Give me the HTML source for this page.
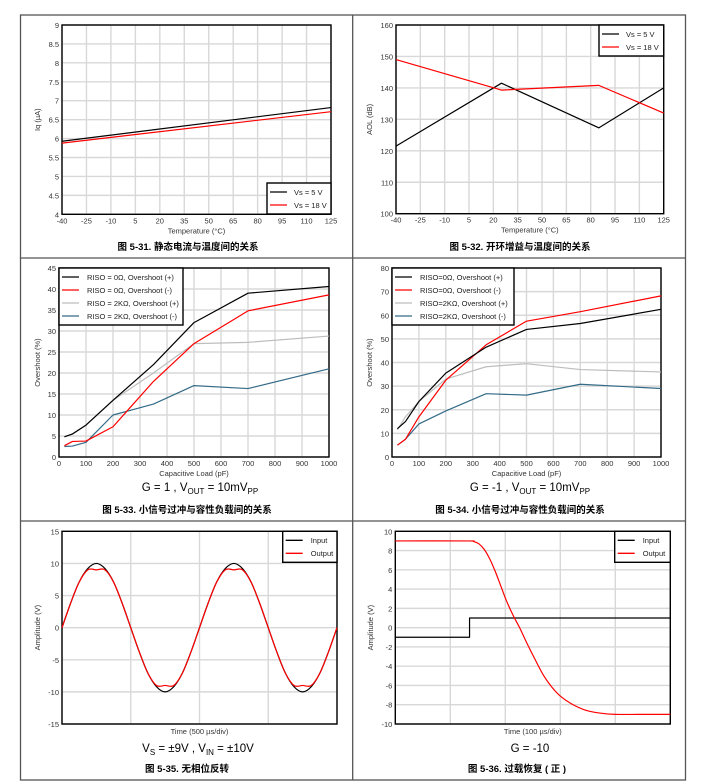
<!DOCTYPE html>
<html><head><meta charset="utf-8"><style>
html,body{margin:0;padding:0;background:#fff;}
svg{display:block;font-family:"Liberation Sans","Noto Sans CJK SC",sans-serif;}
</style></head><body>
<svg id="fig" width="714" height="784" viewBox="0 0 714 784" xmlns="http://www.w3.org/2000/svg">
<rect x="20.5" y="15" width="665" height="765" fill="none" stroke="#555" stroke-width="1.3"/>
<line x1="352.7" y1="15" x2="352.7" y2="780" stroke="#555" stroke-width="1.3"/>
<line x1="20.5" y1="258" x2="685.5" y2="258" stroke="#555" stroke-width="1.3"/>
<line x1="20.5" y1="521" x2="685.5" y2="521" stroke="#555" stroke-width="1.3"/>
<g font-weight="bold" font-size="9.5" text-anchor="middle" fill="#000">
<text x="188" y="250">图 5-31. 静态电流与温度间的关系</text>
<text x="520" y="250">图 5-32. 开环增益与温度间的关系</text>
<text x="187" y="513">图 5-33. 小信号过冲与容性负载间的关系</text>
<text x="520" y="513">图 5-34. 小信号过冲与容性负载间的关系</text>
<text x="187" y="772">图 5-35. 无相位反转</text>
<text x="517" y="772">图 5-36. 过载恢复 ( 正 )</text>
</g>
<g font-size="11.5" text-anchor="middle" fill="#000">
<text x="200" y="491">G = 1 , V<tspan font-size="8" dy="3">OUT</tspan><tspan dy="-3"> = 10mV</tspan><tspan font-size="8" dy="3">PP</tspan></text>
<text x="530" y="491">G = -1 , V<tspan font-size="8" dy="3">OUT</tspan><tspan dy="-3"> = 10mV</tspan><tspan font-size="8" dy="3">PP</tspan></text>
<text x="198" y="752">V<tspan font-size="8" dy="3">S</tspan><tspan dy="-3"> = ±9V , V</tspan><tspan font-size="8" dy="3">IN</tspan><tspan dy="-3"> = ±10V</tspan></text>
<text x="530" y="752">G = -10</text>
</g>
</svg>
<script>
// ---- Chart 1: Iq vs temperature
const c1Temps = [-40, 125];
const c1Vs5 = [5.93, 6.82];
const c1Vs18 = [5.88, 6.71];
const c1XTicks = [-40,-25,-10,5,20,35,50,65,80,95,110,125];
const c1YTicks = [4,4.5,5,5.5,6,6.5,7,7.5,8,8.5,9];
// ---- Chart 2: AOL vs temperature
const c2Temps = [-40, 25, 85, 125];
const c2Vs5 = [121.5, 141.5, 127.3, 140];
const c2Vs18 = [149, 139.3, 140.8, 132];
const c2XTicks = [-40,-25,-10,5,20,35,50,65,80,95,110,125];
const c2YTicks = [100,110,120,130,140,150,160];
// ---- Chart 3: overshoot G=1
const c3Loads = [20, 50, 100, 200, 350, 500, 700, 1000];
const c3R0Pos = [4.8, 5.5, 7.6, 13.5, 22, 32, 39, 40.6];
const c3R0Neg = [2.7, 3.7, 3.8, 7.2, 18, 27, 34.8, 38.6];
const c3R2kPos = [4.8, 5.4, 7.6, 13.5, 20, 27, 27.3, 28.8];
const c3R2kNeg = [2.5, 2.6, 3.5, 10, 12.6, 17, 16.3, 21];
const c3XTicks = [0,100,200,300,400,500,600,700,800,900,1000];
const c3YTicks = [0,5,10,15,20,25,30,35,40,45];
// ---- Chart 4: overshoot G=-1
const c4Loads = [20, 50, 100, 200, 350, 500, 700, 1000];
const c4R0Pos = [12, 15, 23.5, 35.5, 46.5, 54, 56.5, 62.5];
const c4R0Neg = [5, 7.5, 17, 32.5, 47.5, 57.5, 61.5, 68.2];
const c4R2kPos = [11.5, 17, 23.5, 33, 38.2, 39.5, 37, 36];
const c4R2kNeg = [5, 7.5, 14, 19.5, 26.8, 26.2, 30.8, 29];
const c4XTicks = [0,100,200,300,400,500,600,700,800,900,1000];
const c4YTicks = [0,10,20,30,40,50,60,70,80];
// ---- Chart 5: no phase reversal (time in divisions)
const c5Time = [0,0.125,0.25,0.375,0.5,0.625,0.75,0.875,1,1.125,1.25,1.375,1.5,1.625,1.75,1.875,2,2.125,2.25,2.375,2.5,2.625,2.75,2.875,3,3.125,3.25,3.375,3.5,3.625,3.75,3.875,4];
const c5Input = [0,3.8,7.1,9.2,10,9.2,7.1,3.8,0,-3.8,-7.1,-9.2,-10,-9.2,-7.1,-3.8,0,3.8,7.1,9.2,10,9.2,7.1,3.8,0,-3.8,-7.1,-9.2,-10,-9.2,-7.1,-3.8,0];
const c5Output = [0,3.8,7.1,9,9,9,7.1,3.8,0,-3.8,-7.1,-9,-9,-9,-7.1,-3.8,0,3.8,7.1,9,9,9,7.1,3.8,0,-3.8,-7.1,-9,-9,-9,-7.1,-3.8,0];
const c5YTicks = [-15,-10,-5,0,5,10,15];
const c5XDivs = [0,1,2,3,4];
// ---- Chart 6: overload recovery (time in divisions)
const c6InTime = [0, 1.35, 1.35, 5];
const c6Input = [-1, -1, 1, 1];
const c6OutTime = [0,1.3,1.42,1.52,1.62,1.72,1.82,1.92,2.02,2.14,2.26,2.4,2.55,2.7,2.85,3.0,3.2,3.45,3.7,4.0,4.5,5];
const c6Output = [9,9,8.95,8.7,8.1,7.1,5.8,4.3,2.8,1.3,0,-1.7,-3.4,-5,-6.2,-7.1,-7.9,-8.55,-8.85,-9,-9,-9];
const c6YTicks = [-10,-8,-6,-4,-2,0,2,4,6,8,10];
const c6XDivs = [0,1,2,3,4,5];

const NS = "http://www.w3.org/2000/svg";
const svg = document.getElementById('fig');
function mk(tag, attrs, parent){
  const e = document.createElementNS(NS, tag);
  for (const k in attrs) e.setAttribute(k, attrs[k]);
  (parent||svg).appendChild(e);
  return e;
}
function linScale(d0,d1,r0,r1){ return v => r0 + (v-d0)/(d1-d0)*(r1-r0); }

function frame(box, name, xTicks, yTicks, xs, ys, xLabel, yLabel, showXTickLabels, yLabelX){
  const g = mk('g', {});
  
  
  yTicks.forEach(t => {
    const l = mk('line', {x1:box.l, x2:box.r, y1:ys(t), y2:ys(t), stroke:'#d8d8d8', 'stroke-width':1.4}, g);
    
    
    const tx = mk('text', {x:box.l-3, y:ys(t)+3, 'font-size':7.5, 'text-anchor':'end', fill:'#333'}, g);
    
    
    tx.textContent = t;
  });
  xTicks.forEach(t => {
    const l = mk('line', {x1:xs(t), x2:xs(t), y1:box.t, y2:box.b, stroke:'#d8d8d8', 'stroke-width':1.4}, g);
    
    
    if (showXTickLabels){
      const tx = mk('text', {x:xs(t), y:box.b+9, 'font-size':7.5, 'text-anchor':'middle', fill:'#333'}, g);
      
      
      tx.textContent = t;
    }
  });
  const bd = mk('rect', {x:box.l, y:box.t, width:box.r-box.l, height:box.b-box.t, fill:'none', stroke:'#000', 'stroke-width':1.4}, g);
  
  
  const xl = mk('text', {x:(box.l+box.r)/2, y:box.b+(showXTickLabels?19:10), 'font-size':7.5, 'text-anchor':'middle', fill:'#333'}, g);
  
  
  xl.textContent = xLabel;
  const yc = (box.t+box.b)/2;
  const yl = mk('text', {x:yLabelX, y:yc, 'font-size':7.5, 'text-anchor':'middle', fill:'#333', transform:'rotate(-90 '+yLabelX+' '+yc+')'}, g);
  
  
  yl.textContent = yLabel;
}
function series(xsArr, ysArr, xs, ys, color, name, smooth, w){
  const pts = xsArr.map((x,i)=>[xs(x), ys(ysArr[i])]);
  let d = 'M'+pts[0][0]+','+pts[0][1];
  if (smooth){
    for (let i=0;i<pts.length-1;i++){
      const p0=pts[Math.max(0,i-1)], p1=pts[i], p2=pts[i+1], p3=pts[Math.min(pts.length-1,i+2)];
      d += ' C'+(p1[0]+(p2[0]-p0[0])/6)+','+(p1[1]+(p2[1]-p0[1])/6)+' '+(p2[0]-(p3[0]-p1[0])/6)+','+(p2[1]-(p3[1]-p1[1])/6)+' '+p2[0]+','+p2[1];
    }
  } else {
    for (let i=1;i<pts.length;i++) d += ' L'+pts[i][0]+','+pts[i][1];
  }
  const p = mk('path', {d:d, fill:'none', stroke:color, 'stroke-width':w||1.2, 'stroke-linejoin':'round'});
  
  
}
function legend(x, y, w, entries, name, lineX0, lineX1, textX){
  const g = mk('g', {});
  
  
  const h = entries.length*13+5;
  const r = mk('rect', {x:x, y:y, width:w, height:h, fill:'#fff', stroke:'#000', 'stroke-width':1.4}, g);
  
  
  entries.forEach((e,i)=>{
    const yy = y+9+i*13;
    const l = mk('line', {x1:x+lineX0, x2:x+lineX1, y1:yy, y2:yy, stroke:e[1], 'stroke-width':1.3}, g);
    
    
    const t = mk('text', {x:x+textX, y:yy+2.8, 'font-size':7.5, fill:'#222'}, g);
    
    
    t.textContent = e[0];
  });
}
const BLUE = '#346b88', GRAY = '#bdbdbd';

// Chart 1
{ const b={l:62,r:331,t:25,b:214.3};
  const xs=linScale(-40,125,b.l,b.r), ys=linScale(4,9,b.b,b.t);
  frame(b,'chart-iq-vs-temp',c1XTicks,c1YTicks,xs,ys,'Temperature (°C)','Iq (µA)',true,40);
  series(c1Temps,c1Vs5,xs,ys,'#000','series-vs5');
  series(c1Temps,c1Vs18,xs,ys,'#f00','series-vs18');
  legend(267,183,64,[['Vs = 5 V','#000'],['Vs = 18 V','#f00']],'legend-chart1',3,20,27);
}
// Chart 2
{ const b={l:396,r:663.7,t:25,b:213.7};
  const xs=linScale(-40,125,b.l,b.r), ys=linScale(100,160,b.b,b.t);
  frame(b,'chart-aol-vs-temp',c2XTicks,c2YTicks,xs,ys,'Temperature (°C)','AOL (dB)',true,372);
  series(c2Temps,c2Vs5,xs,ys,'#000','series-vs5');
  series(c2Temps,c2Vs18,xs,ys,'#f00','series-vs18');
  legend(599,25,64.7,[['Vs = 5 V','#000'],['Vs = 18 V','#f00']],'legend-chart2',3,20,27);
}
// Chart 3
{ const b={l:59,r:329,t:268,b:457};
  const xs=linScale(0,1000,b.l,b.r), ys=linScale(0,45,b.b,b.t);
  frame(b,'chart-overshoot-g1',c3XTicks,c3YTicks,xs,ys,'Capacitive Load (pF)','Overshoot (%)',true,40);
  series(c3Loads,c3R2kPos,xs,ys,GRAY,'series-2k-pos');
  series(c3Loads,c3R2kNeg,xs,ys,BLUE,'series-2k-neg');
  series(c3Loads,c3R0Neg,xs,ys,'#f00','series-0-neg');
  series(c3Loads,c3R0Pos,xs,ys,'#000','series-0-pos');
  legend(59,268,124,[['RISO = 0Ω, Overshoot (+)','#000'],['RISO = 0Ω, Overshoot (-)','#f00'],['RISO = 2KΩ, Overshoot (+)',GRAY],['RISO = 2KΩ, Overshoot (-)',BLUE]],'legend-chart3',3,20,28);
}
// Chart 4
{ const b={l:392,r:661,t:268,b:457};
  const xs=linScale(0,1000,b.l,b.r), ys=linScale(0,80,b.b,b.t);
  frame(b,'chart-overshoot-g-1',c4XTicks,c4YTicks,xs,ys,'Capacitive Load (pF)','Overshoot (%)',true,372);
  series(c4Loads,c4R2kPos,xs,ys,GRAY,'series-2k-pos');
  series(c4Loads,c4R2kNeg,xs,ys,BLUE,'series-2k-neg');
  series(c4Loads,c4R0Neg,xs,ys,'#f00','series-0-neg');
  series(c4Loads,c4R0Pos,xs,ys,'#000','series-0-pos');
  legend(392,268,122,[['RISO=0Ω, Overshoot (+)','#000'],['RISO=0Ω, Overshoot (-)','#f00'],['RISO=2KΩ, Overshoot (+)',GRAY],['RISO=2KΩ, Overshoot (-)',BLUE]],'legend-chart4',3,20,28);
}
// Chart 5
{ const b={l:62,r:337,t:531.3,b:724};
  const xs=linScale(0,4,b.l,b.r), ys=linScale(-15,15,b.b,b.t);
  frame(b,'chart-phase-reversal',c5XDivs,c5YTicks,xs,ys,'Time (500 µs/div)','Amplitude (V)',false,40);
  series(c5Time,c5Input,xs,ys,'#000','series-input',true);
  series(c5Time,c5Output,xs,ys,'#f00','series-output',true);
  legend(282.7,531.3,54.3,[['Input','#000'],['Output','#f00']],'legend-chart5',3,20,28);
}
// Chart 6
{ const b={l:395.3,r:670.3,t:531.3,b:724};
  const xs=linScale(0,5,b.l,b.r), ys=linScale(-10,10,b.b,b.t);
  frame(b,'chart-overload-recovery',c6XDivs,c6YTicks,xs,ys,'Time (100 µs/div)','Amplitude (V)',false,373);
  series(c6InTime,c6Input,xs,ys,'#000','series-input',false);
  series(c6OutTime,c6Output,xs,ys,'#f00','series-output',true);
  legend(614.7,531.3,55.6,[['Input','#000'],['Output','#f00']],'legend-chart6',3,20,28);
}
</script>
</body></html>
